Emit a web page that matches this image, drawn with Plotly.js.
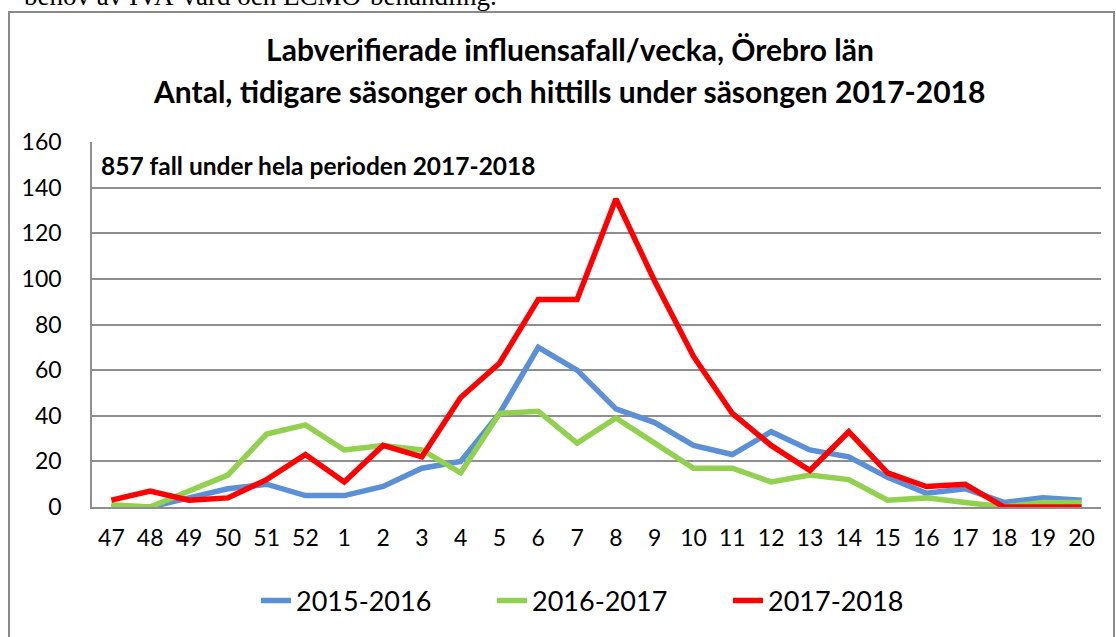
<!DOCTYPE html>
<html><head><meta charset="utf-8">
<script src="https://cdn.plot.ly/plotly-3.0.1.min.js"></script>
<style>html,body{margin:0;padding:0;background:#fff}#chart{width:1116px;height:637px}</style>
</head><body><div id="chart"></div>
<script>
const weeks = ["47","48","49","50","51","52","1","2","3","4","5","6","7","8","9","10","11","12","13","14","15","16","17","18","19","20"];
const s2015 = [0,0,4,8,10,5,5,9,17,20,41,70,60,43,37,27,23,33,25,22,13,6,8,2,4,3];
const s2016 = [1,0,7,14,32,36,25,27,25,15,41,42,28,39,28,17,17,11,14,12,3,4,2,0,2,2];
const s2017 = [3,7,3,4,12,23,11,27,22,48,63,91,91,135,99,66,41,27,16,33,15,9,10,0,0,0];
const seriesNames = ["2015-2016","2016-2017","2017-2018"];
const yTicks = [0,20,40,60,80,100,120,140,160];

const W = 1116, H = 637;
const px = v => v / W, py = v => (H - v) / H;
const FONT = "Lato, 'Open Sans', sans-serif";
const grid = "#8e8e8e";

const colors = ["#5B8FD6", "#92D050", "#FF0000"];
const data = [s2015, s2016, s2017].map((ys, i) => ({
  type: "scatter", mode: "lines", x: weeks, y: ys, name: seriesNames[i],
  line: {color: colors[i], width: 5.5}, hoverinfo: "x+y+name"
}));

const layout = {
  width: W, height: H,
  margin: {l: 0, r: 0, t: 0, b: 0},
  paper_bgcolor: "#fff", plot_bgcolor: "#fff",
  font: {family: FONT, color: "#000"},
  title: {
    text: "<b>Labverifierade influensafall/vecka, Örebro län</b>",
    font: {family: FONT, size: 30, color: "#000"},
    x: px(570), xanchor: "center", xref: "paper",
    y: py(50), yanchor: "middle", yref: "paper"
  },
  xaxis: {
    type: "category", domain: [px(92), px(1101)], range: [-0.5, weeks.length - 0.5],
    showgrid: false, zeroline: false,
    showline: true, linecolor: grid, linewidth: 1.6,
    ticks: "", tickfont: {family: FONT, size: 23, color: "#000"},
    ticklabelstandoff: 10, fixedrange: true
  },
  yaxis: {
    range: [0, 160], domain: [py(507), py(142)],
    tickvals: yTicks, ticktext: yTicks.map(String),
    showgrid: true, gridcolor: grid, gridwidth: 1.6,
    zeroline: false, showline: true, linecolor: grid, linewidth: 1.6,
    ticks: "", tickfont: {family: FONT, size: 23, color: "#000"},
    ticklabelstandoff: 24, fixedrange: true
  },
  showlegend: true,
  legend: {
    orientation: "h", x: px(256), xanchor: "left", y: py(601), yanchor: "middle",
    font: {family: FONT, size: 27, color: "#000"}, bgcolor: "rgba(0,0,0,0)",
    entrywidth: 191, entrywidthmode: "pixels"
  },
  annotations: [
    {text: "<b>Antal, tidigare säsonger och hittills under säsongen 2017-2018</b>",
     xref: "paper", yref: "paper", x: px(569), y: py(91), xanchor: "center", yanchor: "middle",
     showarrow: false, font: {family: FONT, size: 30, color: "#000"}},
    {text: "<b>857 fall under hela perioden 2017-2018</b>",
     xref: "paper", yref: "paper", x: px(99), y: py(165), xanchor: "left", yanchor: "middle",
     showarrow: false, font: {family: FONT, size: 24.5, color: "#000"}},
    {text: "behov av IVA-vård och ECMO-behandling.",
     xref: "paper", yref: "paper", x: px(22), y: py(-4), xanchor: "left", yanchor: "middle",
     showarrow: false, font: {family: "'Liberation Serif', 'DejaVu Serif', serif", size: 27, color: "#000"}}
  ],
  shapes: [
    {type: "rect", xref: "paper", yref: "paper", x0: px(9), x1: px(1114), y0: -0.05, y1: py(12),
     line: {color: "#8a8a8a", width: 2}, fillcolor: "rgba(0,0,0,0)", layer: "below"}
  ]
};

Plotly.newPlot("chart", data, layout, {displayModeBar: false});
</script>
</body></html>
